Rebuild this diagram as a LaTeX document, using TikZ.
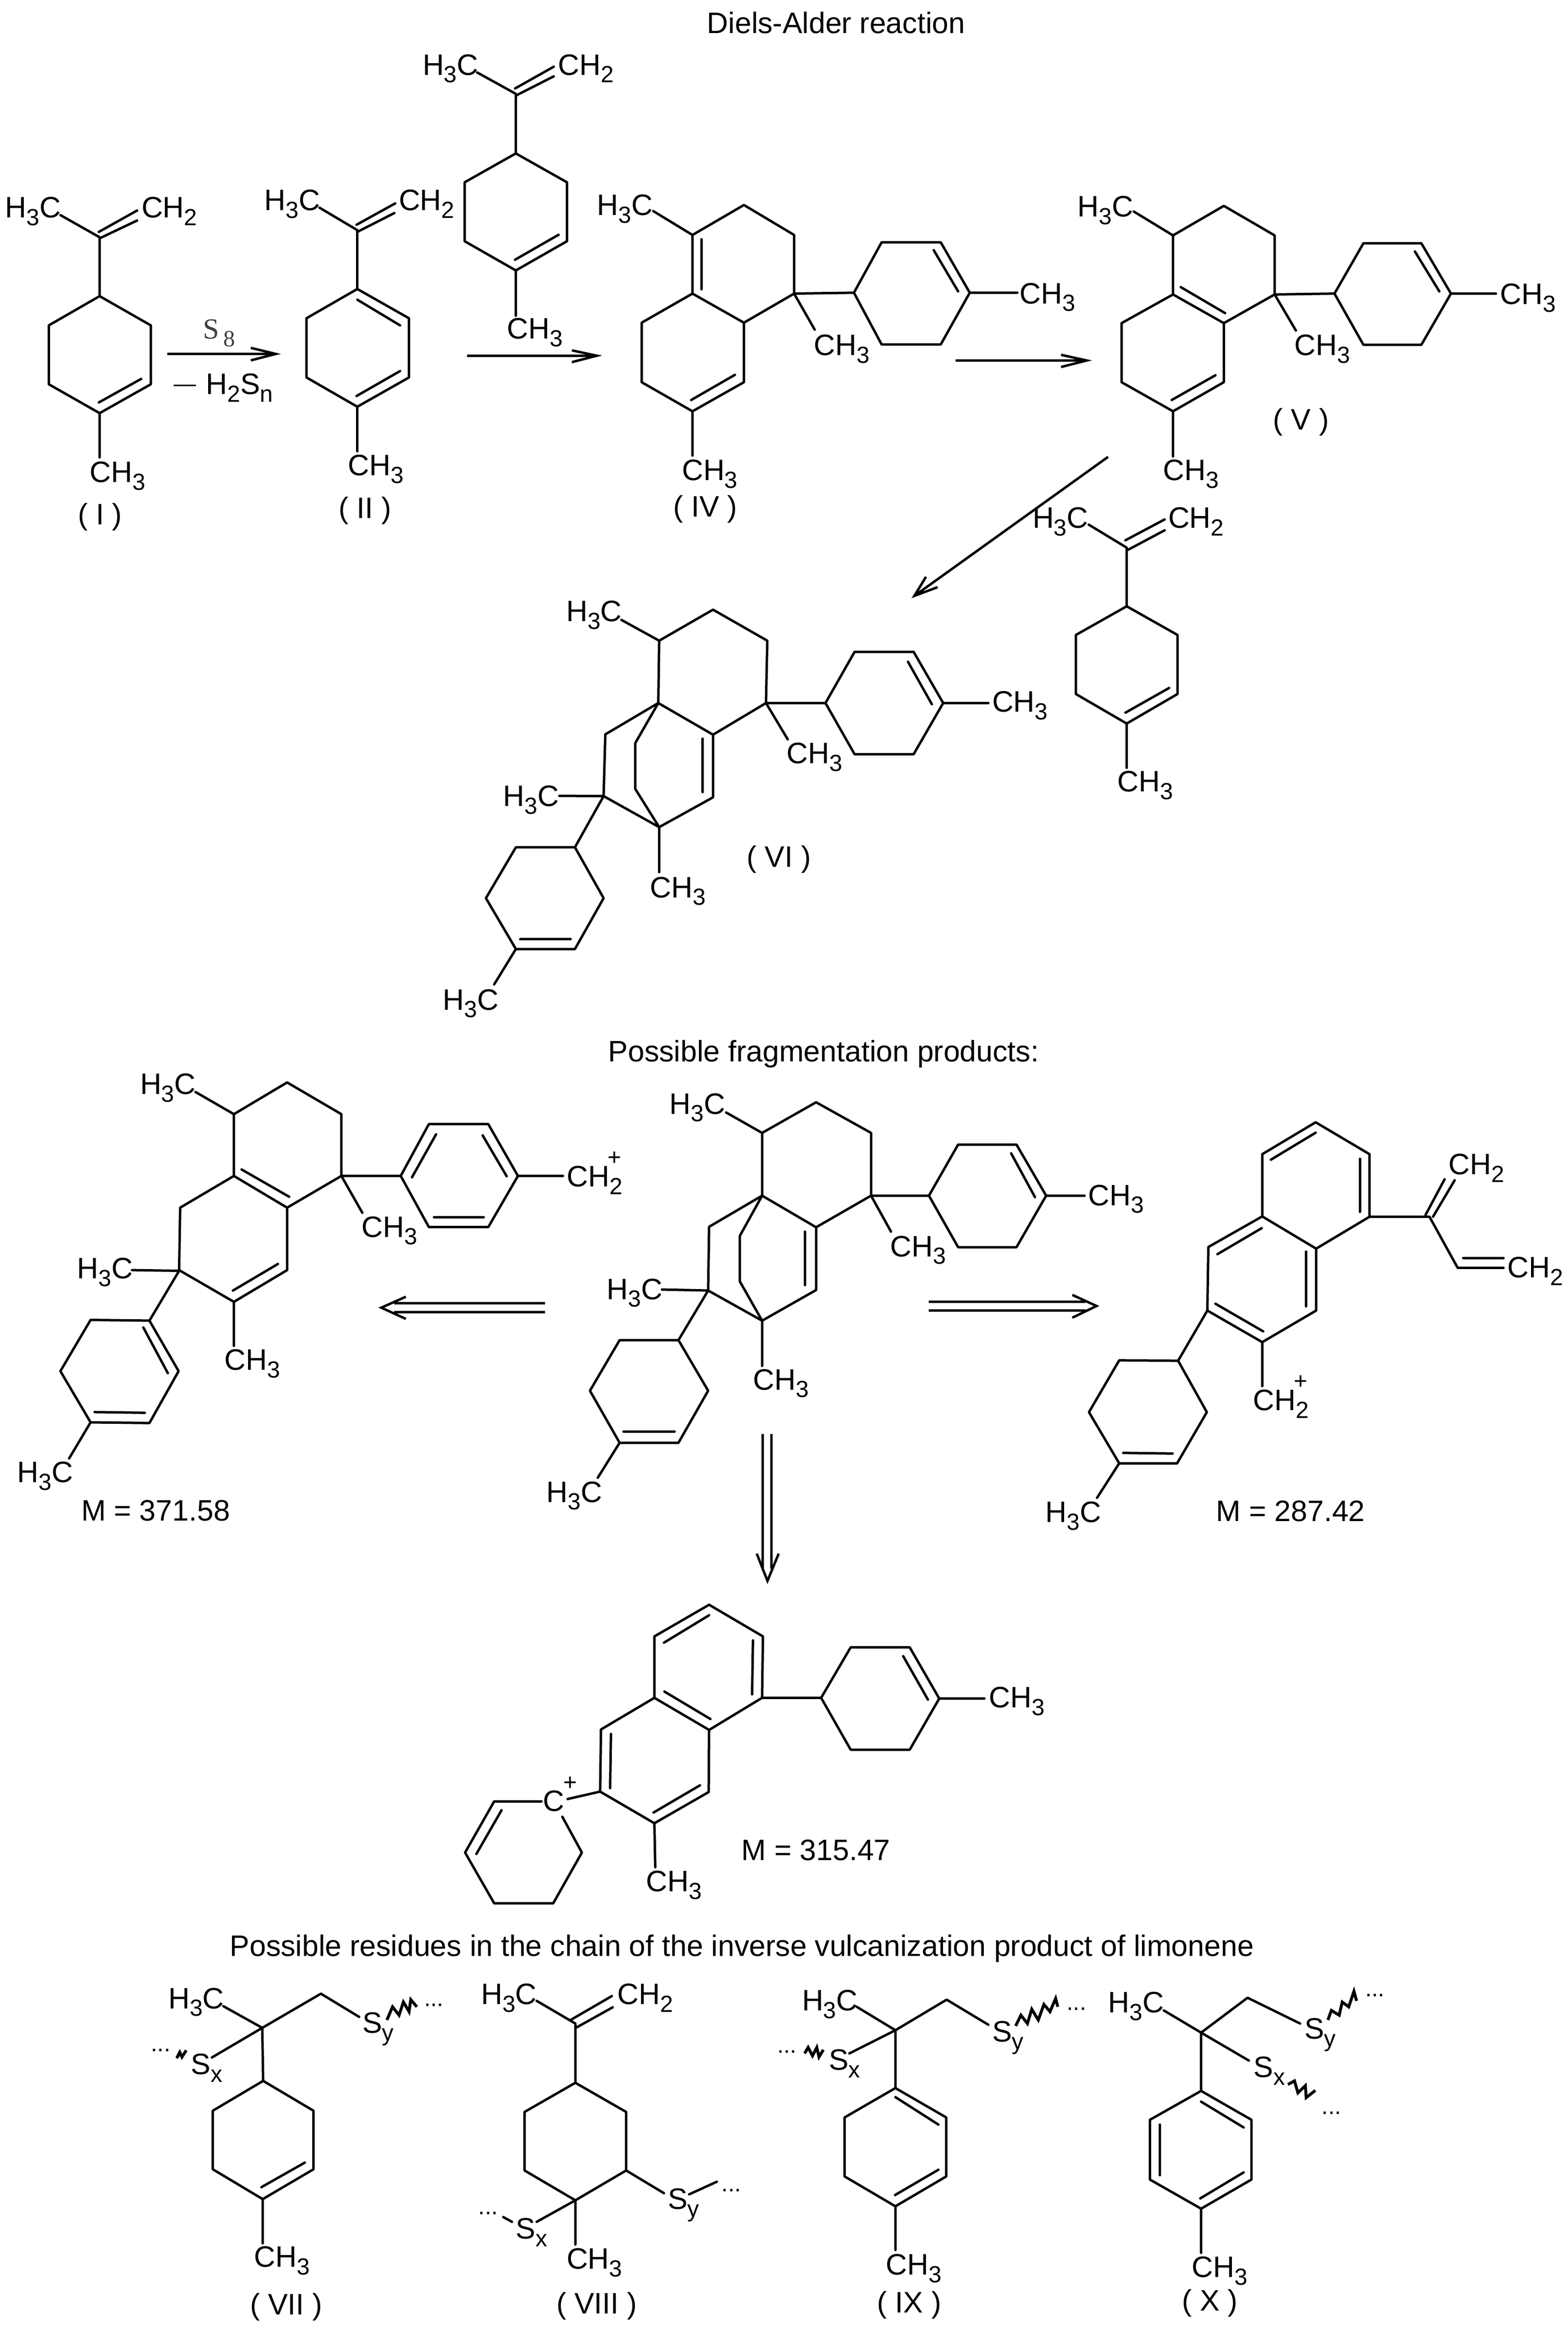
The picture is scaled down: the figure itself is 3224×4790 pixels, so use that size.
\documentclass[tikz,border=0pt]{standalone}
\usepackage{fontspec}
\setmainfont{Liberation Sans}
\newfontfamily\serf{Liberation Serif}
\newcount\lbc
\newcommand\sbb[1]{\raisebox{-.26em}{\fontsize{12}{12}\selectfont #1}}
\newcommand\HMe{H\sbb{3}C}
\newcommand\CMe{CH\sbb{3}}
\newcommand\CMt{CH\sbb{2}}
\newcommand\Lb[3]{\global\advance\lbc by 1 \node[lbl] (t\the\lbc) at (#1,#2) {#3};}
\newcommand\Lc[3]{\global\advance\lbc by 1 \node[lbl,anchor=base] (t\the\lbc) at (#1,#2) {#3};}
\newcommand\Dots[2]{\global\advance\lbc by 1 \node[lbl,font=\fontsize{12}{14}\selectfont] (t\the\lbc) at (#1,#2) {...};}
\newcommand\Pl[2]{\global\advance\lbc by 1 \node[lbl,anchor=center,font=\fontsize{12}{12}\selectfont] (t\the\lbc) at (#1,#2) {+};}
\tikzset{
  lbl/.style={anchor=base west,inner sep=0pt,font=\fontsize{15.2}{18}\selectfont},
  bond/.style={line width=1.25pt,line join=round,line cap=round},
  arr/.style={line width=1.25pt,line join=miter},
  zig/.style={line width=1.5pt,line join=miter}
}
\begin{document}
\begin{tikzpicture}[x=0.25pt,y=-0.25pt]
\useasboundingbox (0,0) rectangle (3224,4790);
\fill[white] (0,0) rectangle (3224,4790);
% titles
\Lb{1453}{68}{Diels-Alder reaction}
\Lb{1250}{2182}{Possible fragmentation products:}
\Lb{472}{4021}{Possible residues in the chain of the inverse vulcanization product of limonene}

% ---------- zone 1
\begin{scope}[shift={(0pt,0pt)},x=0.2073pt,y=-0.18336pt]
% I
\Lb{12}{610}{\HMe}\Lb{350}{610}{\CMt}
\draw[bond] (150,603)--(247,665)--(247,830)--(374,912)--(374,1077)--(247,1158)--(121,1077)--(121,912)--(247,830)
 (245,650)--(340,590) (247,668)--(340,618) (245,1128)--(350,1062) (247,1158)--(247,1282);
\Lb{222}{1352}{\CMe}\Lc{248}{1470}{( I )}
\coordinate (a1s) at (415,992);\coordinate (a1e) at (684,992);\coordinate (a1u) at (622,975);\coordinate (a1d) at (622,1010);
\draw[arr] (a1s)--(a1e) (a1u)--(a1e)--(a1d);
\global\advance\lbc by 1 \node[lbl,font=\serf\fontsize{15}{18}\selectfont,text=black!75] (t\the\lbc) at (502,950) {S};
\global\advance\lbc by 1 \node[lbl,font=\serf\fontsize{12}{14}\selectfont,text=black!75] (t\the\lbc) at (553,972) {8};
\global\advance\lbc by 1 \node[lbl,font=\fontsize{11.5}{14}\selectfont] (t\the\lbc) at (430,1097) {—};
\Lb{510}{1105}{H\sbb{2}S\sbb{n}}
% II
\Lb{655}{590}{\HMe}\Lb{988}{590}{\CMt}
\draw[bond] (792,582)--(886,645)--(886,810)--(1014,892)--(1014,1058)--(886,1140)--(760,1058)--(760,892)--(886,810)
 (884,630)--(980,570) (886,650)--(978,597) (886,840)--(992,912) (884,1110)--(992,1040) (886,1140)--(886,1265);
\Lb{862}{1333}{\CMe}\Lc{905}{1452}{( II )}
% limonene top
\Lb{1047}{210}{\HMe}\Lb{1383}{210}{\CMt}
\draw[bond] (1183,203)--(1279,263)--(1279,430)--(1406,511)--(1406,676)--(1279,758)--(1152,676)--(1152,511)--(1279,430)
 (1277,248)--(1373,187) (1279,268)--(1373,214) (1277,728)--(1385,658) (1279,758)--(1279,885);
\Lb{1256}{950}{\CMe}
\coordinate (a2s) at (1158,997);\coordinate (a2e) at (1480,997);\coordinate (a2u) at (1418,982);\coordinate (a2d) at (1418,1015);
\draw[arr] (a2s)--(a2e) (a2u)--(a2e)--(a2d);
\end{scope}

% ---------- zone 2
\begin{scope}[shift={(287.5pt,-75pt)},x=0.33068pt,y=-0.22321pt]
% IV
\Lb{58}{160}{\HMe}
\draw[bond] (146,150)--(207,205)--(287,136)--(365,205)--(365,340)--(287,407)--(207,340)--(207,205)
 (221,215)--(221,330) (207,340)--(128,407)--(128,544)--(207,611)--(287,544)--(287,407)
 (205,585)--(273,527) (207,611)--(207,713) (365,340)--(458,338) (365,340)--(397,423)
 (458,338)--(501,222)--(593,222)--(638,338)--(593,457)--(501,457)--(458,338)
 (582,240)--(620,335) (638,338)--(712,338);
\Lb{190}{770}{\CMe}\Lc{227}{854}{( IV )}\Lb{395}{482}{\CMe}\Lb{715}{363}{\CMe}
\coordinate (a3s) at (616,494);\coordinate (a3e) at (820,494);\coordinate (a3u) at (780,481);\coordinate (a3d) at (780,509);
\draw[arr] (a3s)--(a3e) (a3u)--(a3e)--(a3d);
% V
\Lb{805}{163}{\HMe}
\draw[bond] (893,151)--(954,206)--(1033,138)--(1112,206)--(1112,342)--(1033,408)--(954,342)--(954,206)
 (966,325)--(1035,385) (954,342)--(874,408)--(874,544)--(954,611)--(1033,544)--(1033,408)
 (952,585)--(1020,528) (954,611)--(954,715) (1112,342)--(1205,340) (1112,342)--(1145,425)
 (1205,340)--(1250,224)--(1340,224)--(1386,340)--(1340,458)--(1250,458)--(1205,340)
 (1330,243)--(1368,335) (1386,340)--(1456,340);
\Lb{938}{770}{\CMe}\Lc{1153}{654}{( V )}\Lb{1142}{482}{\CMe}\Lb{1462}{365}{\CMe}
\coordinate (a4s) at (853,716);\coordinate (a4e) at (552,1036);\coordinate (a4u) at (588,1016);\coordinate (a4d) at (570,992);
\draw[arr] (a4s)--(a4e) (a4u)--(a4e)--(a4d);
% limonene right
\Lb{735}{880}{\HMe}\Lb{946}{880}{\CMt}
\draw[bond] (823,872)--(882,925)--(882,1060)--(961,1126)--(961,1262)--(882,1330)--(803,1262)--(803,1126)--(882,1060)
 (880,908)--(941,860) (884,930)--(941,885) (880,1305)--(948,1248) (882,1330)--(882,1432);
\Lb{867}{1487}{\CMe}
\end{scope}

% ---------- zone 3: VI
\begin{scope}[shift={(200pt,-287.5pt)},x=0.22321pt,y=-0.15944pt]
\Lb{407}{200}{\HMe}
\draw[bond] (535,195)--(622,262)--(746,162)--(871,262)--(868,463)--(746,565)--(620,463)--(622,262)
 (620,463)--(498,564)--(494,763)--(622,863)--(746,767)--(746,565) (722,578)--(722,750)
 (620,463)--(567,592)--(567,740)--(622,863) (622,863)--(622,1008)
 (392,762)--(494,763)--(428,928)--(292,928)--(223,1092)--(292,1256)--(428,1256)--(494,1092)--(428,928)
 (302,1224)--(418,1224) (292,1256)--(242,1370)
 (868,463)--(1005,463) (868,463)--(918,580)
 (1005,463)--(1072,298)--(1208,298)--(1276,463)--(1208,628)--(1072,628)--(1005,463)
 (1195,330)--(1250,467) (1276,463)--(1380,463);
\Lb{600}{1090}{\CMe}\Lb{262}{796}{\HMe}\Lb{123}{1452}{\HMe}\Lb{915}{658}{\CMe}\Lb{1388}{492}{\CMe}\Lc{898}{992}{( VI )}
\end{scope}

% ---------- zone 4: left fragment
\begin{scope}[shift={(0pt,-530pt)},x=0.26307pt,y=-0.17538pt]
\Lb{273}{185}{\HMe}
\draw[bond] (382,178)--(457,243)--(561,150)--(667,243)--(667,424)--(561,517)--(457,424)--(457,243)
 (472,405)--(565,485) (457,424)--(352,517)--(350,700)--(457,793)--(561,700)--(561,517)
 (455,760)--(543,682) (457,793)--(457,922) (258,700)--(350,702)--(292,848)--(177,846)--(118,996)--(177,1146)--(292,1148)--(349,996)--(292,848)
 (280,868)--(328,1002) (185,1116)--(283,1118) (177,1146)--(135,1252)
 (667,424)--(783,424) (667,424)--(708,532)
 (783,424)--(838,272)--(954,272)--(1012,424)--(954,574)--(838,574)--(783,424)
 (805,428)--(852,302) (943,305)--(990,425) (848,545)--(945,545) (1012,424)--(1100,424);
\Lb{438}{993}{\CMe}\Lb{150}{725}{\HMe}\Lb{33}{1322}{\HMe}\Lb{158}{1435}{M = 371.58}
\Lb{706}{603}{\CMe}\Lb{1107}{455}{\CMt}\Pl{1201}{373}
\coordinate (a5a) at (1065,797);\coordinate (a5b) at (770,797);\coordinate (a5c) at (1065,823);\coordinate (a5d) at (770,823);
\coordinate (a5e) at (745,810);\coordinate (a5u) at (793,778);\coordinate (a5w) at (793,843);
\draw[arr] (a5a)--(a5b) (a5c)--(a5d) (a5u)--(a5e)--(a5w);
\end{scope}

% ---------- centre molecule (source pixels)
\Lb{1376}{2290}{\HMe}
\draw[bond] (1493,2287)--(1567,2329)--(1678,2266)--(1791,2329)--(1791,2458)--(1678,2523)--(1567,2458)--(1567,2329)
 (1567,2458)--(1458,2522)--(1456,2653)--(1567,2715)--(1678,2652)--(1678,2523) (1655,2532)--(1655,2642)
 (1567,2458)--(1521,2541)--(1521,2634)--(1567,2715) (1567,2715)--(1567,2808)
 (1361,2651)--(1456,2653)--(1395,2755)--(1274,2755)--(1213,2859)--(1274,2966)--(1395,2966)--(1456,2859)--(1395,2755)
 (1282,2943)--(1387,2943) (1274,2966)--(1229,3038)
 (1791,2458)--(1910,2458) (1791,2458)--(1832,2532)
 (1910,2458)--(1970,2353)--(2090,2353)--(2151,2458)--(2090,2564)--(1970,2564)--(1910,2458)
 (2079,2371)--(2128,2461) (2151,2458)--(2230,2458);
\Lb{1548}{2857}{\CMe}\Lb{1247}{2671}{\HMe}\Lb{1123}{3088}{\HMe}\Lb{1830}{2583}{\CMe}\Lb{2237}{2478}{\CMe}
\coordinate (a6a) at (1568,2948);\coordinate (a6b) at (1568,3225);\coordinate (a6c) at (1586,2948);\coordinate (a6d) at (1586,3225);
\coordinate (a6e) at (1578,3250);\coordinate (a6u) at (1556,3194);\coordinate (a6w) at (1601,3194);
\draw[arr] (a6a)--(a6b) (a6c)--(a6d) (a6u)--(a6e)--(a6w);

% ---------- zone 5: right fragment
\begin{scope}[shift={(400pt,-550pt)},x=0.25893pt,y=-0.16741pt]
\draw[bond] (1067,160)--(1174,258)--(1174,450)--(1068,548)--(961,449)--(961,258)--(1067,160)
 (978,275)--(1067,192) (1155,272)--(1155,435)
 (961,449)--(854,543)--(852,738)--(961,835)--(1068,738)--(1068,548)
 (872,565)--(960,485) (868,717)--(963,802) (1048,557)--(1048,725) (961,835)--(961,970)
 (1174,450)--(1293,450) (1285,445)--(1323,335) (1300,450)--(1343,338) (1293,450)--(1349,607)--(1440,607) (1360,577)--(1440,577)
 (852,738)--(794,892)--(677,891)--(617,1050)--(677,1207)--(792,1207)--(851,1050)--(794,892)
 (685,1175)--(783,1177) (677,1207)--(633,1313);
\Lb{942}{1045}{\CMt}\Pl{1037}{958}\Lb{1330}{320}{\CMt}\Lb{1447}{637}{\CMt}\Lb{530}{1388}{\HMe}\Lb{869}{1385}{M = 287.42}
\coordinate (a7a) at (299,711);\coordinate (a7b) at (610,711);\coordinate (a7c) at (299,738);\coordinate (a7d) at (610,738);
\coordinate (a7e) at (632,724);\coordinate (a7u) at (584,690);\coordinate (a7w) at (584,760);
\draw[arr] (a7a)--(a7b) (a7c)--(a7d) (a7u)--(a7e)--(a7w);
\end{scope}

% ---------- zone 6: bottom fragment
\begin{scope}[shift={(212.5pt,-800pt)},x=0.22321pt,y=-0.11958pt]
\draw[bond] (681,207)--(805,343)--(803,607)--(681,745)--(555,607)--(555,343)--(681,207)
 (577,370)--(681,252) (782,360)--(780,592) (578,580)--(684,698)
 (555,607)--(432,743)--(430,1010)--(555,1146)--(680,1012)--(681,745)
 (455,762)--(453,995) (553,1100)--(660,983) (555,1146)--(557,1335)
 (355,1042)--(430,1010) (295,1052)--(186,1052)--(119,1272)--(186,1490)--(322,1490)--(388,1272)--(343,1118)
 (203,1090)--(145,1278)
 (803,607)--(939,607) (939,607)--(1007,390)--(1143,390)--(1211,610)--(1143,830)--(1007,830)--(939,607)
 (1128,428)--(1185,615) (1211,610)--(1315,610);
\Lb{535}{1440}{\CMe}\Lb{298}{1095}{C}\Pl{361}{975}\Lb{1325}{650}{\CMe}\Lb{755}{1305}{M = 315.47}
\end{scope}

% ---------- zone 7: VII, VIII
\begin{scope}[shift={(50pt,-1005pt)},x=0.22321pt,y=-0.12277pt]
\draw[bond] (290,212)--(380,303)--(515,160)--(603,257) (380,303)--(264,427) (380,303)--(382,525)
 (382,525)--(498,650)--(498,895)--(381,1020)--(266,895)--(266,650)--(382,525)
 (378,970)--(478,867) (381,1020)--(381,1205);
\draw[zig] (667,270)--(680,215)--(695,250)--(705,195)--(718,235)--(722,185)--(736,215);
\draw[zig] (183,430)--(190,405)--(195,425)--(205,397);
\Lb{163}{222}{\HMe}\Lb{215}{498}{S\sbb{x}}\Lb{610}{325}{S\sbb{y}}\Lb{360}{1305}{\CMe}\Lc{435}{1503}{( VII )}
\Dots{752}{212}\Dots{123}{402}
\draw[bond] (1012,190)--(1101,285)--(1101,533) (1090,270)--(1185,170) (1105,300)--(1187,217)
 (1101,533)--(1218,655)--(1218,900)--(1101,1025)--(984,900)--(984,655)--(1101,533)
 (1101,1025)--(1101,1210) (1101,1025)--(1012,1115) (1218,900)--(1305,995) (1363,1000)--(1427,947) (935,1095)--(955,1115);
\Lb{883}{205}{\HMe}\Lb{1197}{205}{\CMt}\Lb{1080}{1312}{\CMe}\Lb{963}{1187}{S\sbb{x}}\Lb{1313}{1062}{S\sbb{y}}\Lc{1150}{1500}{( VIII )}
\Dots{1437}{988}\Dots{877}{1085}
\end{scope}

% ---------- zone 8: IX, X
\begin{scope}[shift={(387.5pt,-1005pt)},x=0.22321pt,y=-0.12277pt]
\draw[bond] (237,215)--(326,313)--(444,185)--(540,290) (326,313)--(220,410) (326,313)--(326,555)
 (326,555)--(443,678)--(443,925)--(326,1050)--(209,925)--(209,678)--(326,555)
 (326,593)--(425,708) (325,1003)--(425,897) (326,1050)--(326,1233);
\draw[zig] (603,295)--(615,250)--(630,285)--(640,225)--(655,270)--(668,205)--(682,235)--(695,180)--(700,215);
\draw[zig] (117,410)--(125,385)--(135,420)--(145,385)--(150,425)--(160,395);
\Lb{110}{232}{\HMe}\Lb{172}{480}{S\sbb{x}}\Lb{548}{362}{S\sbb{y}}\Lb{303}{1337}{\CMe}\Lc{358}{1495}{( IX )}
\Dots{720}{228}\Dots{53}{408}
\draw[bond] (944,230)--(1030,323)--(1137,177)--(1258,285) (1030,323)--(1140,440) (1030,323)--(1030,567)
 (1030,567)--(1146,688)--(1146,938)--(1030,1060)--(912,938)--(912,688)--(1030,567)
 (1030,612)--(1128,720) (935,708)--(935,920) (1028,1017)--(1128,908) (1030,1060)--(1030,1245);
\draw[zig] (1322,270)--(1330,230)--(1348,250)--(1355,195)--(1370,215)--(1382,150)--(1388,190);
\draw[zig] (1230,540)--(1245,525)--(1253,575)--(1270,545)--(1272,595)--(1293,565);
\Lb{815}{240}{\HMe}\Lb{1267}{350}{S\sbb{y}}\Lb{1150}{510}{S\sbb{x}}\Lb{1008}{1347}{\CMe}\Lc{1050}{1487}{( X )}
\Dots{1407}{172}\Dots{1307}{665}
\end{scope}
\end{tikzpicture}
\end{document}
